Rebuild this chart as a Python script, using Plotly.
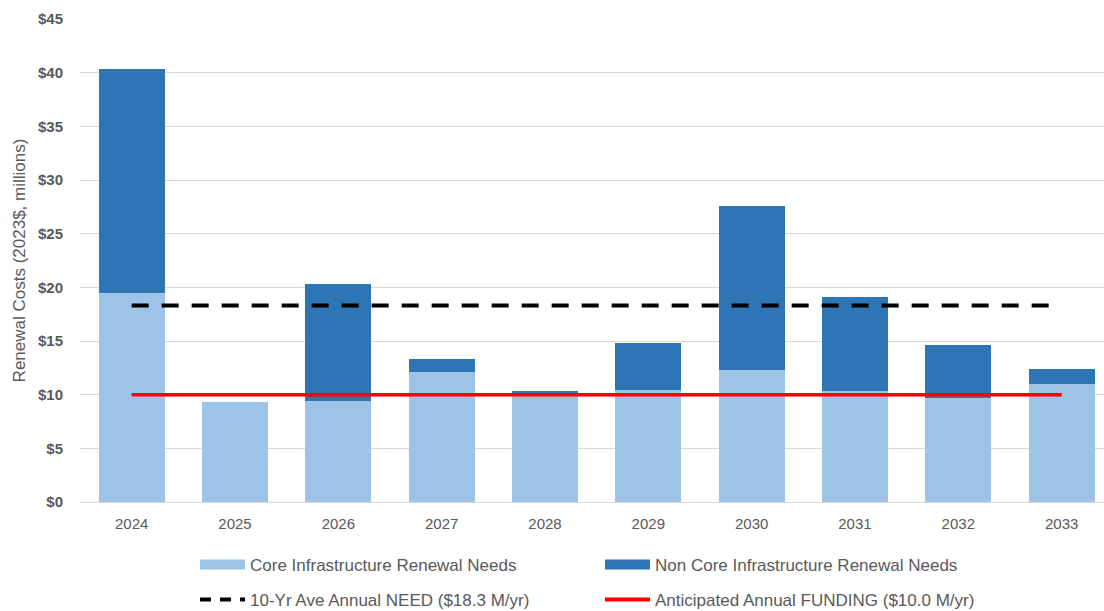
import plotly.graph_objects as go

years = ["2024", "2025", "2026", "2027", "2028", "2029", "2030", "2031", "2032", "2033"]
core_needs = [19.5, 9.3, 9.4, 12.1, 10.1, 10.4, 12.3, 10.3, 9.7, 11.0]
non_core_needs = [20.8, 0.0, 10.9, 1.2, 0.25, 4.4, 15.3, 8.8, 4.9, 1.4]
avg_need = 18.3
annual_funding = 10.0
y_ticks = [0, 5, 10, 15, 20, 25, 30, 35, 40, 45]
y_tick_text = ["$0", "$5", "$10", "$15", "$20", "$25", "$30", "$35", "$40", "$45"]

CORE = "#9DC3E6"
NON_CORE = "#2E75B6"
GREY = "#595959"
FONT = "Liberation Sans, Arial, sans-serif"

fig = go.Figure()

# stacked renewal needs
fig.add_trace(go.Bar(x=years, y=core_needs, marker=dict(color=CORE, line=dict(width=0)),
                     width=0.64, showlegend=False, name="Core Infrastructure Renewal Needs"))
fig.add_trace(go.Bar(x=years, y=non_core_needs, marker=dict(color=NON_CORE, line=dict(width=0)),
                     width=0.64, showlegend=False, name="Non Core Infrastructure Renewal Needs"))

# reference levels across the ten years
fig.add_trace(go.Scatter(x=years, y=[avg_need] * len(years), mode="lines",
                         line=dict(color="black", width=4, dash="17px,13px"),
                         showlegend=False, name="10-Yr Ave Annual NEED ($18.3 M/yr)"))
fig.add_trace(go.Scatter(x=years, y=[annual_funding] * len(years), mode="lines",
                         line=dict(color="#FF0000", width=3.5),
                         showlegend=False, name="Anticipated Annual FUNDING ($10.0 M/yr)"))

# legend entries with wide swatches, two rows
legend_items = [
    ("Core Infrastructure Renewal Needs", dict(color=CORE, width=10), "legend"),
    ("Non Core Infrastructure Renewal Needs", dict(color=NON_CORE, width=10), "legend"),
    ("10-Yr Ave Annual NEED ($18.3 M/yr)", dict(color="black", width=4, dash="11px,9px"), "legend2"),
    ("Anticipated Annual FUNDING ($10.0 M/yr)", dict(color="#FF0000", width=4), "legend2"),
]
for label, ln, lg in legend_items:
    fig.add_trace(go.Scatter(x=[None], y=[None], mode="lines", line=ln, name=label,
                             showlegend=True, legend=lg))

legend_common = dict(orientation="h", xref="container", yref="container",
                     xanchor="left", yanchor="middle",
                     entrywidth=345, entrywidthmode="pixels", itemwidth=45,
                     font=dict(family=FONT, size=17, color=GREY),
                     traceorder="normal", itemclick=False, itemdoubleclick=False,
                     bgcolor="rgba(0,0,0,0)")

fig.update_layout(
    width=1104, height=611,
    margin=dict(l=80, r=0, t=19, b=109),
    barmode="stack",
    plot_bgcolor="white", paper_bgcolor="white",
    font=dict(family=FONT, color=GREY),
    legend=dict(x=195 / 1104, y=1 - 565 / 611, **legend_common),
    legend2=dict(x=195 / 1104, y=1 - 600 / 611, **legend_common),
    xaxis=dict(range=[-0.5, 9.41], showgrid=False, showline=True, linecolor="#D9D9D9",
               linewidth=1, ticks="", tickfont=dict(size=15, color=GREY), ticklabelstandoff=8,
               fixedrange=True),
    yaxis=dict(range=[0, 45], tickvals=y_ticks, ticktext=y_tick_text, showgrid=True,
               gridcolor="#D9D9D9", gridwidth=1, zeroline=False, showline=False,
               tickfont=dict(size=15, color=GREY, weight="bold"), ticklabelstandoff=16,
               title=dict(text="Renewal Costs (2023$, millions)", font=dict(size=17, color=GREY),
                          standoff=8),
               fixedrange=True),
)

fig.write_html("out.html")
